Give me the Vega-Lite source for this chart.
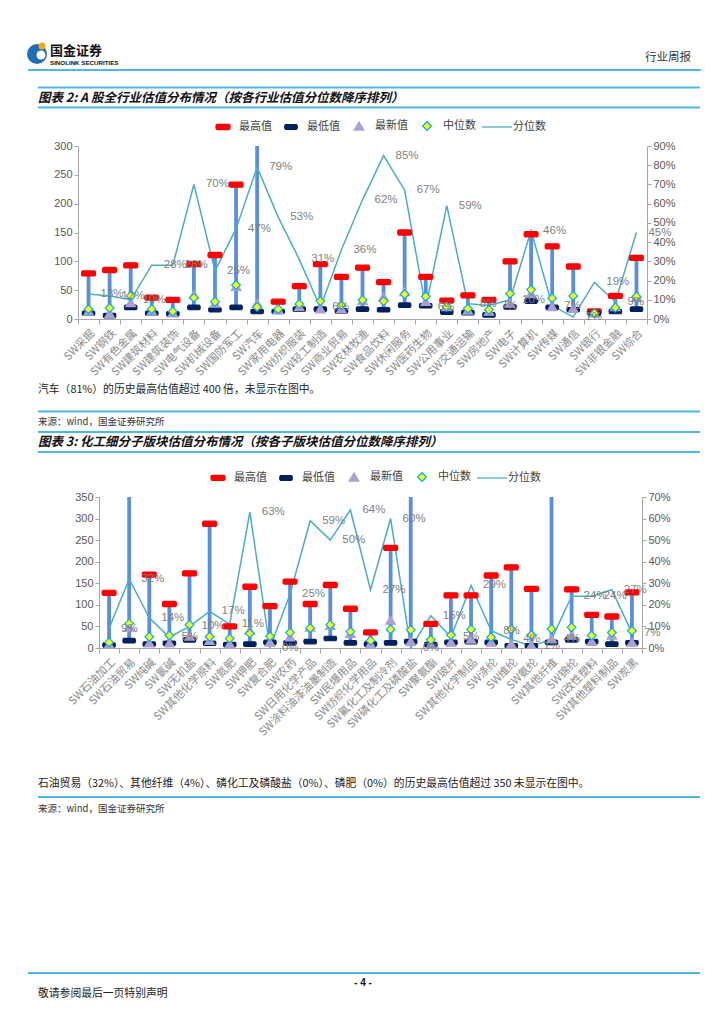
{
  "$schema": "https://vega.github.io/schema/vega-lite/v6.json",
  "padding": 0,
  "background": "white",
  "spacing": 0,
  "bounds": "flush",
  "resolve": {"scale": {"shape": "independent", "fill": "independent", "stroke": "independent", "x": "independent", "y": "independent"}, "legend": {"shape": "independent", "fill": "independent", "stroke": "independent"}},
  "config": {
    "view": {"stroke": null},
    "font": "Noto Sans CJK SC",
    "axis": {"grid": false, "title": null, "domainColor": "#A6A6A6", "tickColor": "#A6A6A6", "labelFont": "Liberation Sans", "labelFontSize": 11, "labelColor": "#595959", "tickSize": 4},
    "legend": {"orient": "none", "direction": "horizontal", "columns": 5, "title": null, "labelFont": "Noto Sans CJK SC", "labelFontSize": 11, "labelColor": "#404040", "symbolSize": 900, "symbolStrokeWidth": 1.3, "labelOffset": 0, "columnPadding": 3, "padding": 0, "rowPadding": 0}
  },
  "datasets": {
    "industry": [
      {"name": "SW采掘", "最高值": 79, "最低值": 10, "最新值": 13, "中位数": 17, "分位数": 0.13},
      {"name": "SW钢铁", "最高值": 85, "最低值": 6, "最新值": 9, "中位数": 19, "分位数": 0.12},
      {"name": "SW有色金属", "最高值": 93, "最低值": 20, "最新值": 28, "中位数": 40, "分位数": 0.10},
      {"name": "SW建筑材料", "最高值": 37, "最低值": 10, "最新值": 13, "中位数": 17, "分位数": 0.28},
      {"name": "SW建筑装饰", "最高值": 33, "最低值": 9, "最新值": 10, "中位数": 13, "分位数": 0.28},
      {"name": "SW电气设备", "最高值": 95, "最低值": 20, "最新值": 42, "中位数": 37, "分位数": 0.70},
      {"name": "SW机械设备", "最高值": 111, "最低值": 16, "最新值": 27, "中位数": 30, "分位数": 0.25},
      {"name": "SW国防军工", "最高值": 233, "最低值": 20, "最新值": 56, "中位数": 59, "分位数": 0.47},
      {"name": "SW汽车", "最高值": 420, "最低值": 13, "最新值": 27, "中位数": 21, "分位数": 0.79},
      {"name": "SW家用电器", "最高值": 30, "最低值": 13, "最新值": 16, "中位数": 17, "分位数": 0.53},
      {"name": "SW纺织服装", "最高值": 57, "最低值": 17, "最新值": 21, "中位数": 26, "分位数": 0.31},
      {"name": "SW轻工制造", "最高值": 95, "最低值": 17, "最新值": 17, "中位数": 31, "分位数": 0.06},
      {"name": "SW商业贸易", "最高值": 73, "最低值": 14, "最新值": 17, "中位数": 24, "分位数": 0.36},
      {"name": "SW农林牧渔", "最高值": 89, "最低值": 17, "最新值": 32, "中位数": 33, "分位数": 0.62},
      {"name": "SW食品饮料", "最高值": 64, "最低值": 16, "最新值": 38, "中位数": 31, "分位数": 0.85},
      {"name": "SW休闲服务", "最高值": 150, "最低值": 24, "最新值": 47, "中位数": 43, "分位数": 0.67},
      {"name": "SW医药生物", "最高值": 73, "最低值": 23, "最新值": 30, "中位数": 39, "分位数": 0.06},
      {"name": "SW公用事业", "最高值": 32, "最低值": 12, "最新值": 21, "中位数": 21, "分位数": 0.59},
      {"name": "SW交通运输", "最高值": 41, "最低值": 11, "最新值": 15, "中位数": 18, "分位数": 0.08},
      {"name": "SW房地产", "最高值": 33, "最低值": 7, "最新值": 13, "中位数": 16, "分位数": 0.07},
      {"name": "SW电子", "最高值": 100, "最低值": 21, "最新值": 27, "中位数": 44, "分位数": 0.10},
      {"name": "SW计算机", "最高值": 147, "最低值": 31, "最新值": 44, "中位数": 51, "分位数": 0.46},
      {"name": "SW传媒", "最高值": 126, "最低值": 20, "最新值": 21, "中位数": 36, "分位数": 0.07},
      {"name": "SW通信", "最高值": 91, "最低值": 16, "最新值": 18, "中位数": 40, "分位数": 0.01},
      {"name": "SW银行", "最高值": 13, "最低值": 9, "最新值": 10, "中位数": 10, "分位数": 0.19},
      {"name": "SW非银金融", "最高值": 40, "最低值": 13, "最新值": 21, "中位数": 20, "分位数": 0.09},
      {"name": "SW综合", "最高值": 106, "最低值": 17, "最新值": 37, "中位数": 39, "分位数": 0.45}
    ],
    "chem": [
      {"name": "SW石油加工", "最高值": 128, "最低值": 7, "最新值": 8, "中位数": 13, "分位数": 0.09},
      {"name": "SW石油贸易", "最高值": 400, "最低值": 17, "最新值": 48, "中位数": 57, "分位数": 0.32},
      {"name": "SW纯碱", "最高值": 170, "最低值": 9, "最新值": 11, "中位数": 26, "分位数": 0.14},
      {"name": "SW氯碱", "最高值": 102, "最低值": 11, "最新值": 11, "中位数": 29, "分位数": 0.05},
      {"name": "SW无机盐", "最高值": 173, "最低值": 19, "最新值": 27, "中位数": 54, "分位数": 0.10},
      {"name": "SW其他化学原料", "最高值": 288, "最低值": 11, "最新值": 17, "中位数": 26, "分位数": 0.17},
      {"name": "SW氮肥", "最高值": 50, "最低值": 8, "最新值": 9, "中位数": 22, "分位数": 0.11},
      {"name": "SW钾肥", "最高值": 142, "最低值": 9, "最新值": 40, "中位数": 34, "分位数": 0.63},
      {"name": "SW复合肥", "最高值": 97, "最低值": 13, "最新值": 13, "中位数": 27, "分位数": 0.0},
      {"name": "SW农药", "最高值": 154, "最低值": 12, "最新值": 25, "中位数": 36, "分位数": 0.25},
      {"name": "SW日用化学产品", "最高值": 102, "最低值": 15, "最新值": 48, "中位数": 46, "分位数": 0.59},
      {"name": "SW涂料油漆油墨制造", "最高值": 146, "最低值": 22, "最新值": 52, "中位数": 54, "分位数": 0.50},
      {"name": "SW民爆用品", "最高值": 91, "最低值": 12, "最新值": 33, "中位数": 38, "分位数": 0.64},
      {"name": "SW纺织化学用品", "最高值": 36, "最低值": 9, "最新值": 9, "中位数": 17, "分位数": 0.27},
      {"name": "SW氟化工及制冷剂", "最高值": 232, "最低值": 12, "最新值": 64, "中位数": 43, "分位数": 0.60},
      {"name": "SW磷化工及磷酸盐", "最高值": 400, "最低值": 15, "最新值": 15, "中位数": 42, "分位数": 0.0},
      {"name": "SW聚氨酯", "最高值": 56, "最低值": 8, "最新值": 8, "中位数": 19, "分位数": 0.15},
      {"name": "SW玻纤", "最高值": 122, "最低值": 13, "最新值": 13, "中位数": 30, "分位数": 0.05},
      {"name": "SW其他化学制品", "最高值": 122, "最低值": 15, "最新值": 20, "中位数": 43, "分位数": 0.29},
      {"name": "SW涤纶", "最高值": 168, "最低值": 13, "最新值": 13, "中位数": 25, "分位数": 0.08},
      {"name": "SW维纶", "最高值": 187, "最低值": 5, "最新值": 9, "中位数": 44, "分位数": 0.04},
      {"name": "SW氨纶", "最高值": 137, "最低值": 5, "最新值": 6, "中位数": 30, "分位数": 0.01},
      {"name": "SW其他纤维", "最高值": 400, "最低值": 13, "最新值": 21, "中位数": 44, "分位数": 0.04},
      {"name": "SW锦纶", "最高值": 136, "最低值": 19, "最新值": 29, "中位数": 48, "分位数": 0.24},
      {"name": "SW改性塑料", "最高值": 77, "最低值": 15, "最新值": 15, "中位数": 29, "分位数": 0.24},
      {"name": "SW其他塑料制品", "最高值": 73, "最低值": 9, "最新值": 29, "中位数": 36, "分位数": 0.27},
      {"name": "SW炭黑", "最高值": 129, "最低值": 12, "最新值": 13, "中位数": 40, "分位数": 0.07}
    ]
  },
  "vconcat": [
    {
      "width": 724, "height": 146,
      "data": {"values": [{}]},
      "layer": [
        {"mark": {"type": "rule", "color": "#4DB8EA", "strokeWidth": 2}, "encoding": {"x": {"value": 28}, "x2": {"value": 701}, "y": {"value": 70}}},
        {"mark": {"type": "rule", "color": "#4DB8EA", "strokeWidth": 2}, "encoding": {"x": {"value": 38}, "x2": {"value": 700}, "y": {"value": 87.5}}},
        {"mark": {"type": "rule", "color": "#4DB8EA", "strokeWidth": 2}, "encoding": {"x": {"value": 38}, "x2": {"value": 700}, "y": {"value": 107.5}}},
        {"mark": {"type": "point", "shape": "circle", "filled": true, "color": "#1F6DB5", "size": 400, "opacity": 1}, "encoding": {"x": {"value": 37}, "y": {"value": 54}}},
        {"mark": {"type": "point", "shape": "circle", "filled": true, "color": "white", "size": 80, "opacity": 1}, "encoding": {"x": {"value": 41}, "y": {"value": 55}}},
        {"mark": {"type": "point", "shape": "circle", "filled": true, "color": "#F4A81D", "size": 50, "opacity": 1}, "encoding": {"x": {"value": 42}, "y": {"value": 46}}},
        {"mark": {"type": "text", "text": "国金证券", "align": "left", "baseline": "middle", "fontSize": 13, "fontWeight": "bold", "color": "#111111"}, "encoding": {"x": {"value": 50}, "y": {"value": 51}}},
        {"mark": {"type": "text", "text": "SINOLINK SECURITIES", "align": "left", "baseline": "middle", "fontSize": 6.2, "fontWeight": "bold", "font": "Liberation Sans", "color": "#111111"}, "encoding": {"x": {"value": 50}, "y": {"value": 62.5}}},
        {"mark": {"type": "text", "text": "行业周报", "align": "right", "baseline": "middle", "fontSize": 11.5, "color": "#333333"}, "encoding": {"x": {"value": 691}, "y": {"value": 58}}},
        {"mark": {"type": "text", "text": "图表 2: A 股全行业估值分布情况（按各行业估值分位数降序排列）", "align": "left", "baseline": "middle", "fontSize": 12.5, "fontWeight": "bold", "fontStyle": "italic", "color": "#111111"}, "encoding": {"x": {"value": 38}, "y": {"value": 97.5}}}
      ]
    },
    {
      "width": 724, "height": 173,
      "data": {"name": "industry"},
      "encoding": {
        "x": {"field": "name", "type": "nominal", "sort": null, "scale": {"paddingInner": 0, "paddingOuter": 0, "range": [78, 647]},
          "axis": {"title": null, "labelAngle": -45, "tickBand": "extent", "labelFont": "Noto Sans CJK SC", "labelFontSize": 11, "labelColor": "#8A8A8A", "labelPadding": 3, "labelOverlap": false, "labelLimit": 200, "tickSize": 5}}
      },
      "layer": [
        {"mark": {"type": "rule", "color": "#5B8FDB", "strokeWidth": 3.8, "clip": true},
         "encoding": {
           "y": {"field": "最低值", "type": "quantitative", "scale": {"domain": [0, 300], "nice": false}, "axis": {"title": null, "offset": -78, "values": [0, 50, 100, 150, 200, 250, 300]}},
           "y2": {"field": "最高值"}}},
        {"mark": {"type": "line", "color": "#4BACC6", "strokeWidth": 1.5},
         "encoding": {"y": {"field": "分位数", "type": "quantitative", "scale": {"domain": [0, 0.9], "nice": false}, "axis": {"orient": "right", "offset": -77, "format": ".0%", "title": null, "values": [0, 0.1, 0.2, 0.3, 0.4, 0.5, 0.6, 0.7, 0.8, 0.9]}}}},
        {"transform": [{"fold": ["最高值", "最低值", "最新值", "中位数"], "as": ["series", "value"]}],
         "mark": {"type": "point", "filled": true, "size": 900, "strokeWidth": 1.2, "opacity": 1, "clip": true},
         "encoding": {
           "y": {"field": "value", "type": "quantitative", "scale": {"domain": [0, 300], "nice": false}, "axis": null},
           "shape": {"field": "series", "type": "nominal",
             "scale": {"domain": ["最高值", "最低值", "最新值", "中位数", "分位数"], "range": ["M-0.39,-0.17L0.39,-0.17L0.45,-0.13L0.47,0L0.45,0.13L0.39,0.17L-0.39,0.17L-0.45,0.13L-0.47,0L-0.45,-0.13Z", "M-0.35,-0.15L0.35,-0.15L0.4,-0.11L0.42,0L0.4,0.11L0.35,0.15L-0.35,0.15L-0.4,0.11L-0.42,0L-0.4,-0.11Z", "M0,-0.28L0.32,0.25L-0.32,0.25Z", "M0,-0.29L0.29,0L0,0.29L-0.29,0Z", "M-1,0L1,0"]},
             "legend": {"legendX": 207, "legendY": -36}},
           "fill": {"field": "series", "type": "nominal",
             "scale": {"domain": ["最高值", "最低值", "最新值", "中位数", "分位数"], "range": ["#FF0000", "#002060", "#ABA0D2", "#FFFF00", "transparent"]},
             "legend": {"legendX": 207, "legendY": -36}},
           "stroke": {"field": "series", "type": "nominal",
             "scale": {"domain": ["最高值", "最低值", "最新值", "中位数", "分位数"], "range": ["#FF0000", "#002060", "#ABA0D2", "#00B0F0", "#4BACC6"]},
             "legend": {"legendX": 207, "legendY": -36}}
         }},
        {"mark": {"type": "text", "align": "left", "baseline": "middle", "dx": 12, "font": "Liberation Sans", "fontSize": 11.5, "color": "#7F7F7F"},
         "encoding": {
           "y": {"field": "分位数", "type": "quantitative", "scale": {"domain": [0, 0.9], "nice": false}, "axis": null},
           "text": {"field": "分位数", "format": ".0%"}}}
      ],
      "resolve": {"scale": {"y": "independent"}}
    },
    {
      "width": 724, "height": 178,
      "data": {"values": [{}]},
      "layer": [
        {"mark": {"type": "text", "text": "汽车（81%）的历史最高估值超过 400 倍，未显示在图中。", "align": "left", "baseline": "middle", "fontSize": 10.8, "color": "#222222"}, "encoding": {"x": {"value": 38}, "y": {"value": 71}}},
        {"mark": {"type": "rule", "color": "#4DB8EA", "strokeWidth": 2}, "encoding": {"x": {"value": 38}, "x2": {"value": 700}, "y": {"value": 92.5}}},
        {"mark": {"type": "text", "text": "来源：wind，国金证券研究所", "align": "left", "baseline": "middle", "fontSize": 9.5, "color": "#333333"}, "encoding": {"x": {"value": 38}, "y": {"value": 102.5}}},
        {"mark": {"type": "rule", "color": "#4DB8EA", "strokeWidth": 2}, "encoding": {"x": {"value": 38}, "x2": {"value": 700}, "y": {"value": 113}}},
        {"mark": {"type": "text", "text": "图表 3: 化工细分子版块估值分布情况（按各子版块估值分位数降序排列）", "align": "left", "baseline": "middle", "fontSize": 12.5, "fontWeight": "bold", "fontStyle": "italic", "color": "#111111"}, "encoding": {"x": {"value": 38}, "y": {"value": 122.5}}},
        {"mark": {"type": "rule", "color": "#4DB8EA", "strokeWidth": 2}, "encoding": {"x": {"value": 38}, "x2": {"value": 700}, "y": {"value": 133}}}
      ]
    },
    {
      "width": 724, "height": 151,
      "data": {"name": "chem"},
      "encoding": {
        "x": {"field": "name", "type": "nominal", "sort": null, "scale": {"paddingInner": 0, "paddingOuter": 0, "range": [99, 642]},
          "axis": {"title": null, "labelAngle": -45, "tickBand": "extent", "labelFont": "Noto Sans CJK SC", "labelFontSize": 11, "labelColor": "#8A8A8A", "labelPadding": 3, "labelOverlap": false, "labelLimit": 200, "tickSize": 5}}
      },
      "layer": [
        {"mark": {"type": "rule", "color": "#5B8FDB", "strokeWidth": 3.8, "clip": true},
         "encoding": {
           "y": {"field": "最低值", "type": "quantitative", "scale": {"domain": [0, 350], "nice": false}, "axis": {"title": null, "offset": -99, "values": [0, 50, 100, 150, 200, 250, 300, 350]}},
           "y2": {"field": "最高值"}}},
        {"mark": {"type": "line", "color": "#4BACC6", "strokeWidth": 1.5},
         "encoding": {"y": {"field": "分位数", "type": "quantitative", "scale": {"domain": [0, 0.7], "nice": false}, "axis": {"orient": "right", "offset": -82, "format": ".0%", "title": null, "values": [0, 0.1, 0.2, 0.3, 0.4, 0.5, 0.6, 0.7]}}}},
        {"transform": [{"fold": ["最高值", "最低值", "最新值", "中位数"], "as": ["series", "value"]}],
         "mark": {"type": "point", "filled": true, "size": 900, "strokeWidth": 1.2, "opacity": 1, "clip": true},
         "encoding": {
           "y": {"field": "value", "type": "quantitative", "scale": {"domain": [0, 350], "nice": false}, "axis": null},
           "shape": {"field": "series", "type": "nominal",
             "scale": {"domain": ["最高值", "最低值", "最新值", "中位数", "分位数"], "range": ["M-0.39,-0.17L0.39,-0.17L0.45,-0.13L0.47,0L0.45,0.13L0.39,0.17L-0.39,0.17L-0.45,0.13L-0.47,0L-0.45,-0.13Z", "M-0.35,-0.15L0.35,-0.15L0.4,-0.11L0.42,0L0.4,0.11L0.35,0.15L-0.35,0.15L-0.4,0.11L-0.42,0L-0.4,-0.11Z", "M0,-0.28L0.32,0.25L-0.32,0.25Z", "M0,-0.29L0.29,0L0,0.29L-0.29,0Z", "M-1,0L1,0"]},
             "legend": {"legendX": 202, "legendY": -36}},
           "fill": {"field": "series", "type": "nominal",
             "scale": {"domain": ["最高值", "最低值", "最新值", "中位数", "分位数"], "range": ["#FF0000", "#002060", "#ABA0D2", "#FFFF00", "transparent"]},
             "legend": {"legendX": 202, "legendY": -36}},
           "stroke": {"field": "series", "type": "nominal",
             "scale": {"domain": ["最高值", "最低值", "最新值", "中位数", "分位数"], "range": ["#FF0000", "#002060", "#ABA0D2", "#00B0F0", "#4BACC6"]},
             "legend": {"legendX": 202, "legendY": -36}}
         }},
        {"mark": {"type": "text", "align": "left", "baseline": "middle", "dx": 12, "font": "Liberation Sans", "fontSize": 11.5, "color": "#7F7F7F"},
         "encoding": {
           "y": {"field": "分位数", "type": "quantitative", "scale": {"domain": [0, 0.7], "nice": false}, "axis": null},
           "text": {"field": "分位数", "format": ".0%"}}}
      ],
      "resolve": {"scale": {"y": "independent"}}
    },
    {
      "width": 724, "height": 377,
      "data": {"values": [{}]},
      "layer": [
        {"mark": {"type": "text", "text": "石油贸易（32%）、其他纤维（4%）、磷化工及磷酸盐（0%）、磷肥（0%）的历史最高估值超过 350 未显示在图中。", "align": "left", "baseline": "middle", "fontSize": 10.8, "color": "#222222"}, "encoding": {"x": {"value": 38}, "y": {"value": 136}}},
        {"mark": {"type": "rule", "color": "#4DB8EA", "strokeWidth": 2}, "encoding": {"x": {"value": 38}, "x2": {"value": 700}, "y": {"value": 149}}},
        {"mark": {"type": "text", "text": "来源：wind，国金证券研究所", "align": "left", "baseline": "middle", "fontSize": 9.5, "color": "#333333"}, "encoding": {"x": {"value": 38}, "y": {"value": 161}}},
        {"mark": {"type": "rule", "color": "#4DB8EA", "strokeWidth": 2}, "encoding": {"x": {"value": 28}, "x2": {"value": 700}, "y": {"value": 325}}},
        {"mark": {"type": "text", "text": "- 4 -", "align": "center", "baseline": "middle", "fontSize": 10, "fontWeight": "bold", "font": "Liberation Sans", "color": "#111111"}, "encoding": {"x": {"value": 363}, "y": {"value": 334.5}}},
        {"mark": {"type": "text", "text": "敬请参阅最后一页特别声明", "align": "left", "baseline": "middle", "fontSize": 10.8, "color": "#222222"}, "encoding": {"x": {"value": 38}, "y": {"value": 346}}}
      ]
    }
  ]
}
